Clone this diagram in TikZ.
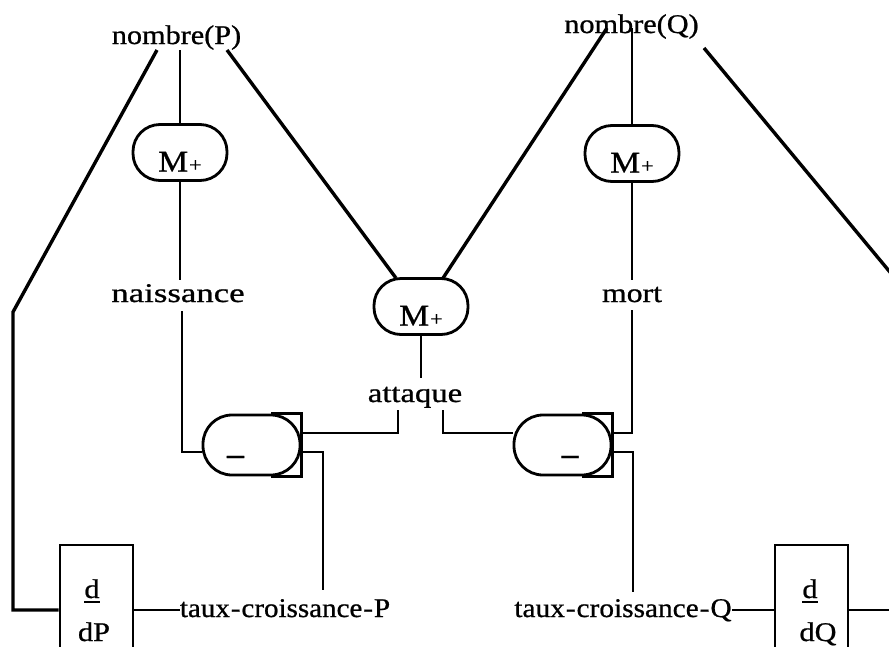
\documentclass[tikz,border=0pt]{standalone}
\usepackage{fontspec}
\setmainfont{Liberation Serif}[FakeStretch=1.12,FakeBold=0.8]
\newcommand\lab{\fontsize{27}{30}\selectfont}
\newcommand\mplussign{{\fontsize{20}{20}\selectfont\kern1pt +}}
\newcommand\hy{\kern1pt-\kern1pt}
\begin{document}
\begin{tikzpicture}[x=1pt,y=-1pt,
  every node/.style={inner sep=0pt},
  lbl/.style={font=\lab, anchor=base},
  diag/.style={line width=3.4pt},
  conn/.style={line width=2.6pt},
  mplus/.style={draw, line width=2.8pt, rounded corners=27pt, minimum width=94pt, minimum height=56pt, text height=38pt, text depth=0pt, font=\fontsize{30}{30}\selectfont},
  minusbox/.style={draw, line width=2.8pt, rounded corners=29pt, minimum width=97pt, minimum height=60pt},
  minussign/.style={font=\bfseries\fontsize{30}{30}\selectfont, anchor=base},
  derbox/.style={draw, line width=2.6pt, minimum width=73pt, minimum height=150pt},
]
\useasboundingbox (0,0) rectangle (889,646);
\clip (0,0) rectangle (889,646);
\coordinate (ybot) at (0,610);
\coordinate (yup) at (0,433);
\coordinate (ylow) at (0,452);

% nodes
\node[lbl] (nP) at (176.5,44) {nombre(P)};
\node[lbl] (nQ) at (631.5,33) {nombre(Q)};
\node[mplus] (mP) at (180,152.5) {M\mplussign};
\node[mplus] (mC) at (421,306.5) {M\mplussign};
\node[mplus] (mQ) at (632,153.5) {M\mplussign};
\node[lbl, xscale=1.15] (nais) at (178,302) {naissance};
\node[lbl, xscale=1.05] (mort) at (632,302) {mort};
\node[lbl, xscale=1.08] (att) at (415,402) {attaque};
\node[minusbox] (sL) at (251.5,445) {};
\node[minusbox] (sR) at (562.5,445) {};
\node[minussign] (sLm) at (235.5,464) {–};
\node[minussign] (sRm) at (570,464) {–};
\node[lbl, xscale=0.96] (tP) at (285,617) {taux\hy croissance\hy P};
\node[lbl, xscale=0.97] (tQ) at (623,617) {taux\hy croissance\hy Q};
\node[derbox] (bP) at (96.5,620) {};
\node[derbox] (bQ) at (811.5,620) {};
\node[lbl] (bPd) at (92,598) {d};
\node[lbl] (bPv) at (94,641) {dP};
\node[lbl] (bQd) at (810,598) {d};
\node[lbl] (bQv) at (818,641) {dQ};

% underlines of d
\draw[line width=2pt] ([shift={(0,3.5)}]bPd.base west) -- ([shift={(0,3.5)}]bPd.base east);
\draw[line width=2pt] ([shift={(0,3.5)}]bQd.base west) -- ([shift={(0,3.5)}]bQd.base east);

% square right ends of the minus boxes
\draw[conn] ([shift={(-30,0)}]sL.north east) -- (sL.north east) -- (sL.south east) -- ([shift={(-30,0)}]sL.south east);
\draw[conn] ([shift={(-30,0)}]sR.north east) -- (sR.north east) -- (sR.south east) -- ([shift={(-30,0)}]sR.south east);

% connectors from nombre(P)
\draw[diag] ([shift={(-19.5,6)}]nP.base) -- ++(-144,262) coordinate (bendP) |- (bP.west |- ybot);
\draw[conn] ([shift={(3.5,6)}]nP.base) -- (mP.north);
\draw[diag] ([shift={(50.5,6)}]nP.base) -- ([shift={(-25,1)}]mC.north);

% connectors from nombre(Q)
\draw[diag] ([shift={(-24.5,-5)}]nQ.base) -- ([shift={(22,1)}]mC.north);
\draw[conn] ([shift={(0.5,-5)}]nQ.base) -- (mQ.north);
\draw[diag] ([shift={(72.5,15)}]nQ.base) -- ++(200,241);

% vertical chains
\draw[conn] (mP.south) -- ([shift={(2,-22)}]nais.base);
\draw[conn] ([shift={(4,9)}]nais.base) |- (sL.west |- ylow);
\draw[conn] (mQ.south) -- ([shift={(0,-22)}]mort.base);
\draw[conn] ([shift={(0,8)}]mort.base) |- (sR.east |- yup);
\draw[conn] (mC.south) -- ([shift={(6,-24)}]att.base);

% around attaque
\draw[conn] (sL.east |- yup) -| ([shift={(-17,8)}]att.base);
\draw[conn] ([shift={(28,8)}]att.base) |- (sR.west |- yup);

% down to the rates
\draw[conn] (sL.east |- ylow) -| ([shift={(38,-27)}]tP.base);
\draw[conn] (sR.east |- ylow) -| ([shift={(10,-25)}]tQ.base);

% bottom line
\draw[conn] (bP.east |- ybot) -- (tP.west |- ybot);
\draw[conn] (tQ.east |- ybot) -- (bQ.west |- ybot);
\draw[conn] (bQ.east |- ybot) -- ++(60,0);
\end{tikzpicture}
\end{document}
